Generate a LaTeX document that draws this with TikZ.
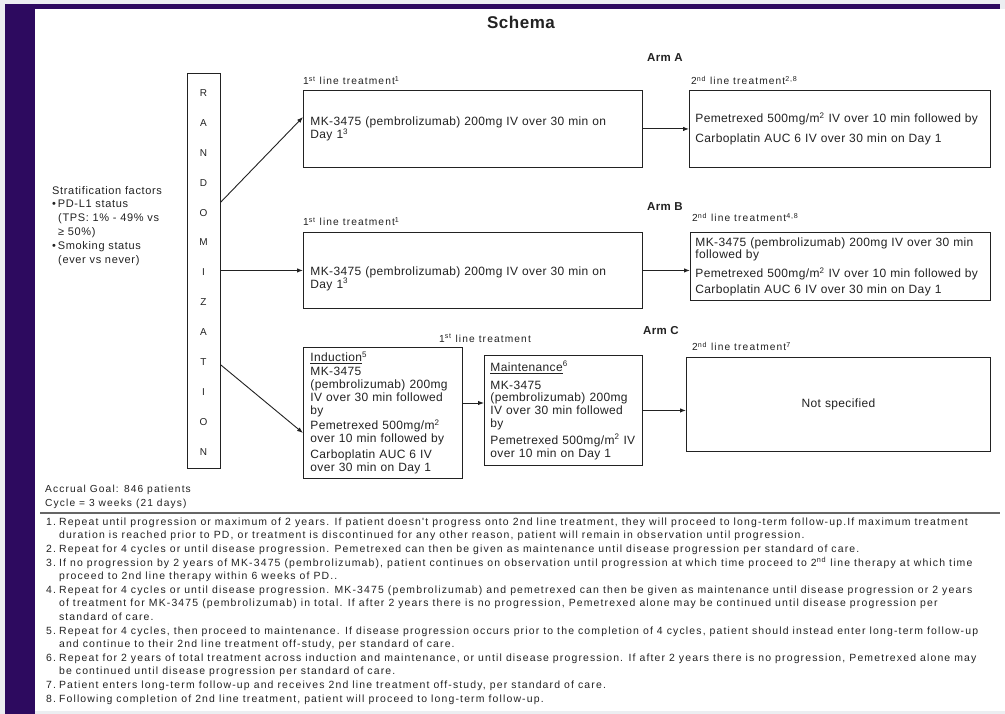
\documentclass[tikz,border=0pt]{standalone}
\usepackage{fontspec}
\setmainfont{Liberation Sans}[LetterSpace=3]
\newfontfamily\midfam{Liberation Sans}[LetterSpace=6]
\newfontfamily\widefam{Liberation Sans}[LetterSpace=11]
\usetikzlibrary{positioning,calc,arrows.meta}
\definecolor{schemapurple}{HTML}{2D0A5F}
\definecolor{pagegrey}{HTML}{ECEEF1}
\definecolor{inkgrey}{HTML}{222222}
\newcommand\boxfont{\fontsize{12}{12.8}\selectfont}
\newcommand\lblfont{\widefam\fontsize{10.2}{12}\selectfont}
\newcommand\notefont{\widefam\fontsize{10.45}{13.6}\selectfont}

\begin{document}
\begin{tikzpicture}[x=1pt,y=-1pt,
    every node/.style={text=inkgrey},
    box/.style={draw=inkgrey,line width=0.9pt,anchor=north west,align=left,inner xsep=7pt,inner ysep=2pt,font=\boxfont},
    letter/.style={font=\fontsize{10}{12}\selectfont},
    lbl/.style={anchor=base west,inner sep=0pt,font=\lblfont},
    arm/.style={anchor=west,inner sep=0pt,font=\fontsize{11.5}{14}\selectfont\bfseries},
    arr/.style={draw=inkgrey,line width=0.9pt,-{Latex[length=6pt,width=4.5pt]}}]

  % page frame
  \fill[pagegrey] (0,0) rectangle (1005,714);
  \fill[white] (35,9) rectangle (1005,711);
  \fill[schemapurple] (5,4) rectangle (35,714);
  \fill[schemapurple] (35,4) rectangle (1000,9);
  \useasboundingbox (0,0) rectangle (1005,714);

  \node[font=\fontsize{17}{20}\selectfont\bfseries] (title) at (521,22) {Schema};

  % randomization column
  \node[draw=inkgrey,line width=0.9pt,anchor=north west,minimum width=33pt,minimum height=395pt,inner sep=0pt] (rand) at (187,73) {};
  \foreach \l [count=\i] in {R,A,N,D,O,M,I,Z,A,T,I,O,N}
    \node[letter] (L\i) at (203.5,{93+29.9*(\i-1)}) {\l};

  \node[anchor=north west,inner sep=0pt,align=left,font=\midfam\fontsize{11}{13.8}\selectfont] (strat) at (52,186)
    {Stratification factors\\ •\,PD-L1 status\\ \hspace*{6pt}(TPS: 1\% - 49\% vs\\ \hspace*{6pt}≥ 50\%)\\ •\,Smoking status\\ \hspace*{6pt}(ever vs never)};

  % arm A
  \node[arm] (armA) at (647,58) {Arm A};
  \node[box,text width=325pt,minimum height=77pt] (a1) at (303,90)
    {MK-3475 (pembrolizumab) 200mg IV over 30 min on\\Day 1\textsuperscript{3}};
  \node[lbl] (a1lbl) at ($(a1.north west)+(0,-5)$) {1\textsuperscript{st} line treatment\textsuperscript{1}};
  \node[box,text width=289pt,minimum height=77pt,inner xsep=6pt] (a2) at (689,90)
    {Pemetrexed 500mg/m\textsuperscript{2} IV over 10 min followed by\\[7pt]Carboplatin AUC 6 IV over 30 min on Day 1};
  \node[lbl] (a2lbl) at ($(a2.north west)+(2,-5)$) {2\textsuperscript{nd} line treatment\textsuperscript{2,8}};

  % arm B
  \node[arm] (armB) at (647,207) {Arm B};
  \node[box,text width=325pt,minimum height=76pt] (b1) at (303,232)
    {\mbox{}\\[12pt]MK-3475 (pembrolizumab) 200mg IV over 30 min on\\Day 1\textsuperscript{3}};
  \node[lbl] (b1lbl) at ($(b1.north west)+(0,-6)$) {1\textsuperscript{st} line treatment\textsuperscript{1}};
  \node[box,text width=290pt,minimum height=68pt,inner xsep=5pt] (b2) at (690,232)
    {MK-3475 (pembrolizumab) 200mg IV over 30 min\\followed by\\[6pt]Pemetrexed 500mg/m\textsuperscript{2} IV over 10 min followed by\\[2.5pt]Carboplatin AUC 6 IV over 30 min on Day 1};
  \node[lbl] (b2lbl) at ($(b2.north west)+(2,-10)$) {2\textsuperscript{nd} line treatment\textsuperscript{4,8}};

  % arm C
  \node[arm] (armC) at (643,331) {Arm C};
  \node[lbl,anchor=base] (c1lbl) at (485,342) {1\textsuperscript{st} line treatment};
  \node[box,text width=145pt,minimum height=131pt] (ind) at (303,347)
    {\underline{Induction}\textsuperscript{5}\\[1pt]MK-3475\\(pembrolizumab) 200mg\\IV over 30 min followed\\by\\[3pt]Pemetrexed 500mg/m\textsuperscript{2}\\over 10 min followed by\\[3pt]Carboplatin AUC 6 IV\\over 30 min on Day 1};
  \node[box,text width=146pt,minimum height=110pt,inner xsep=6pt] (mnt) at (484,355)
    {\underline{Maintenance}\textsuperscript{6}\\[5pt]MK-3475\\(pembrolizumab) 200mg\\IV over 30 min followed\\by\\[4pt]Pemetrexed 500mg/m\textsuperscript{2} IV\\over 10 min on Day 1};
  \node[box,text width=290pt,minimum height=94pt,align=center] (ns) at (686,357) {Not specified};
  \node[lbl] (nslbl) at ($(ns.north west)+(6,-6)$) {2\textsuperscript{nd} line treatment\textsuperscript{7}};
  \coordinate (mntin) at ($(mnt.north west)+(0,48)$);

  % connectors
  \draw[arr] ($(rand.north east)+(0,129)$) -- ($(a1.north west)+(0,27)$);
  \draw[arr] (rand.east |- b1.west) -- (b1.west);
  \draw[arr] ($(rand.north east)+(0,292)$) -- ($(ind.north west)+(0,86)$);
  \draw[arr] (a1.east) -- (a2.west);
  \draw[arr] (b1.east) -- (b1.east -| b2.west);
  \draw[arr] (ind.east |- mntin) -- (mntin);
  \draw[arr] (mnt.east) -- (mnt.east -| ns.west);

  % accrual and notes
  \node[anchor=base west,inner sep=0pt,font=\lblfont] (accrual) at (45,492) {Accrual Goal: 846 patients};
  \node[anchor=base west,inner sep=0pt,font=\lblfont] (cycle) at (45,506) {Cycle = 3 weeks (21 days)};
  \draw[line width=1.2pt,black!60] (40,513) -- (1000,513);
  \node[anchor=north west,inner sep=0pt,font=\notefont] (notes) at (46,515.5)
    {\begin{tabular}{@{}l@{\hspace{3pt}}l@{}}
    1. & Repeat until progression or maximum of 2 years. If patient doesn't progress onto 2nd line treatment, they will proceed to long-term follow-up.If maximum treatment\\
       & duration is reached prior to PD, or treatment is discontinued for any other reason, patient will remain in observation until progression.\\
    2. & Repeat for 4 cycles or until disease progression. Pemetrexed can then be given as maintenance until disease progression per standard of care.\\
    3. & If no progression by 2 years of MK-3475 (pembrolizumab), patient continues on observation until progression at which time proceed to 2\textsuperscript{nd} line therapy at which time\\
       & proceed to 2nd line therapy within 6 weeks of PD..\\
    4. & Repeat for 4 cycles or until disease progression. MK-3475 (pembrolizumab) and pemetrexed can then be given as maintenance until disease progression or 2 years\\
       & of treatment for MK-3475 (pembrolizumab) in total. If after 2 years there is no progression, Pemetrexed alone may be continued until disease progression per\\
       & standard of care.\\
    5. & Repeat for 4 cycles, then proceed to maintenance. If disease progression occurs prior to the completion of 4 cycles, patient should instead enter long-term follow-up\\
       & and continue to their 2nd line treatment off-study, per standard of care.\\
    6. & Repeat for 2 years of total treatment across induction and maintenance, or until disease progression. If after 2 years there is no progression, Pemetrexed alone may\\
       & be continued until disease progression per standard of care.\\
    7. & Patient enters long-term follow-up and receives 2nd line treatment off-study, per standard of care.\\
    8. & Following completion of 2nd line treatment, patient will proceed to long-term follow-up.
    \end{tabular}};
\end{tikzpicture}
\end{document}
